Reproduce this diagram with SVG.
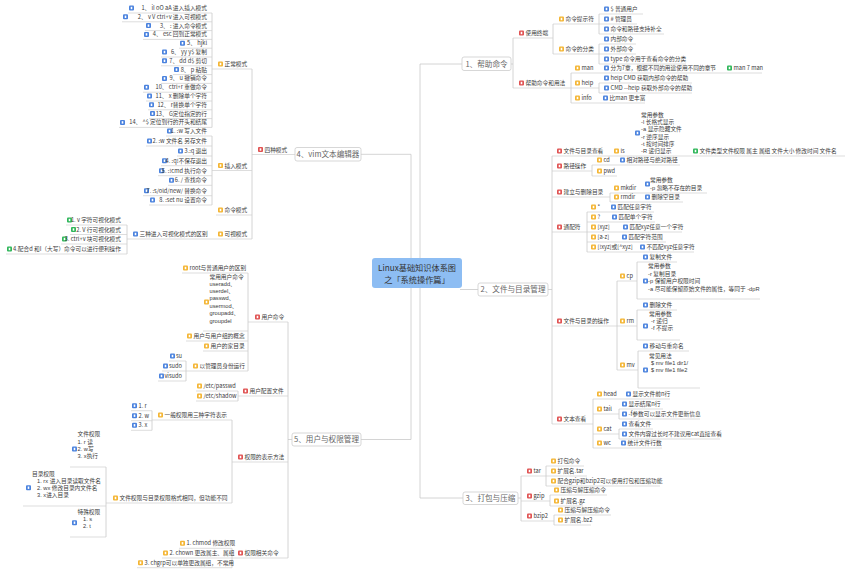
<svg xmlns="http://www.w3.org/2000/svg" width="850" height="572" viewBox="0 0 850 572">
<style>
.l{fill:none;stroke:#c6c6c6;stroke-width:.75}
.u{fill:none;stroke:#cfcfcf;stroke-width:.7}
text{font-family:"Noto Sans CJK SC","Noto Sans",sans-serif;font-size:5.7px;fill:#3a3a3a}
text.m{font-family:"Liberation Sans","Noto Sans CJK SC",sans-serif}
.e{text-anchor:end}
.bx{fill:#fff;stroke:#cdcdcd;stroke-width:.8}
.bt{font-size:7.6px;fill:#666;text-anchor:middle}
.ct{font-size:8.2px;fill:#333;text-anchor:middle}
</style>
<defs>
<g id="ir"><rect width="5" height="5" rx="1" fill="#e05252"/><rect x="1.7" y="1.3" width="1.6" height="2.4" fill="#fff"/></g>
<g id="iy"><rect width="5" height="5" rx="1" fill="#f4b533"/><rect x="1.7" y="1.3" width="1.6" height="2.4" fill="#fff"/></g>
<g id="ib"><rect width="5" height="5" rx="1" fill="#4a82de"/><rect x="1.7" y="1.3" width="1.6" height="2.4" fill="#fff"/></g>
<g id="ig"><rect width="5" height="5" rx="1" fill="#2fb65a"/><rect x="1.7" y="1.3" width="1.6" height="2.4" fill="#fff"/></g>
</defs>
<rect width="850" height="572" fill="#fff"/>

<g id="connectors">
<path class="l" d="M420 273V64H462"/>
<path class="l" d="M460 289.5H478"/>
<path class="l" d="M420 273V498H463"/>
<path class="l" d="M411 273V154.3H361"/>
<path class="l" d="M411 273V439.5H361"/>
<path class="l" d="M511 64H513M513 38V88"/>
<path class="l" d="M553 24V54"/>
<path class="l" d="M599 14V34"/>
<path class="l" d="M599 44V64"/>
<path class="l" d="M571 73V103"/>
<path class="l" d="M599 83V93"/>
<path class="l" d="M548 289.5H552M552 156V424"/>
<path class="l" d="M592 165V176"/>
<path class="l" d="M610 193V202"/>
<path class="l" d="M587 212V252"/>
<path class="l" d="M617 281V370"/>
<path class="l" d="M637 262V299"/>
<path class="l" d="M637 310V340"/>
<path class="l" d="M638 351V388"/>
<path class="l" d="M593 399V448"/>
<path class="l" d="M619 409V419"/>
<path class="l" d="M619 429V439"/>
<path class="l" d="M518 498H521M521 476V521"/>
<path class="l" d="M546 466V486"/>
<path class="l" d="M550 495V506"/>
<path class="l" d="M554 515V525"/>
<path class="l" d="M252 69V239"/>
<path class="l" d="M212 13V127.4"/>
<path class="l" d="M212 136V205"/>
<path class="l" d="M127 225V254"/>
<path class="l" d="M292 439.5H288M288 322V558"/>
<path class="l" d="M248 273V371"/>
<path class="l" d="M186 361V381"/>
<path class="l" d="M238 391V401"/>
<path class="l" d="M232 420V503"/>
<path class="l" d="M152 410.7V430.3"/>
<path class="l" d="M106 467V537"/>
<path class="l" d="M232 548.3V567.7"/>
</g>

<g id="center"><rect x="372" y="258" width="90" height="30" rx="3" fill="#8dbdf3"/><text class="ct" x="417" y="270.5">Linux基础知识体系图</text><text class="ct" x="417" y="282.5">之「系统操作篇」</text></g>

<g id="b1"><rect class="bx" x="462" y="57" width="49" height="13.5" rx="2"/><text class="bt" x="486.5" y="66.6">1、帮助命令</text></g>
<g id="b2"><rect class="bx" x="478" y="283" width="70" height="13" rx="2"/><text class="bt" x="513" y="292.3">2、文件与目录管理</text></g>
<g id="b3"><rect class="bx" x="463" y="492" width="55" height="12.5" rx="2"/><text class="bt" x="490.5" y="501">3、打包与压缩</text></g>
<g id="b4"><rect class="bx" x="295" y="147.5" width="66" height="13.5" rx="2"/><text class="bt" x="328" y="157">4、vim文本编辑器</text></g>
<g id="b5"><rect class="bx" x="292" y="433" width="69" height="13" rx="2"/><text class="bt" x="326.5" y="442.4">5、用户与权限管理</text></g>

<g id="n1-1"><use href="#ir" x="519" y="30.5"/><text x="525.5" y="35">使用终端</text><path class="u" d="M513 38H553"/></g>
<g id="n1-1-1"><use href="#iy" x="559" y="16.5"/><text x="565.5" y="21">命令提示符</text><path class="u" d="M553 24H599"/></g>
<g id="n1-1-1-1"><use href="#ib" x="604" y="6.5"/><text x="610.5" y="11">$ 普通用户</text><path class="u" d="M599 14H643"/></g>
<g id="n1-1-1-2"><use href="#ib" x="604" y="16.5"/><text x="610.5" y="21"># 管理员</text><path class="u" d="M599 24H637"/></g>
<g id="n1-1-1-3"><use href="#ib" x="604" y="26.5"/><text x="610.5" y="31">命令和路径支持补全</text><path class="u" d="M599 34H664"/></g>
<g id="n1-1-2"><use href="#iy" x="559" y="46.5"/><text x="565.5" y="51">命令的分类</text><path class="u" d="M553 54H599"/></g>
<g id="n1-1-2-1"><use href="#ib" x="604" y="36.5"/><text x="610.5" y="41">内部命令</text><path class="u" d="M599 44H636"/></g>
<g id="n1-1-2-2"><use href="#ib" x="604" y="46.5"/><text x="610.5" y="51">外部命令</text><path class="u" d="M599 54H636"/></g>
<g id="n1-1-2-3"><use href="#ib" x="604" y="56.5"/><text x="610.5" y="61">type 命令用于查看命令的分类</text><path class="u" d="M599 64H686"/></g>
<g id="n1-2"><use href="#ir" x="519" y="80.5"/><text x="525.5" y="85">帮助命令和用法</text><path class="u" d="M513 88H571"/></g>
<g id="n1-2-1"><use href="#iy" x="575" y="65.5"/><text x="581.5" y="70">man</text><path class="u" d="M571 73H601"/></g>
<g id="n1-2-1-1"><use href="#ib" x="604" y="65.5"/><text x="610.5" y="70">分为7章，根据不同的用途使用不同的章节</text><path class="u" d="M601 73H716"/></g>
<g id="n1-2-1-1-1"><use href="#ig" x="727" y="65.5"/><text x="733.5" y="70">man 7 man</text><path class="u" d="M716 73H762"/></g>
<g id="n1-2-2"><use href="#iy" x="575" y="80.5"/><text x="581.5" y="85">help</text><path class="u" d="M571 88H599"/></g>
<g id="n1-2-2-1"><use href="#ib" x="604" y="75.5"/><text x="610.5" y="80">help CMD 获取内部命令的帮助</text><path class="u" d="M599 83H692"/></g>
<g id="n1-2-2-2"><use href="#ib" x="604" y="85.5"/><text x="610.5" y="90">CMD --help 获取外部命令的帮助</text><path class="u" d="M599 93H692"/></g>
<g id="n1-2-3"><use href="#iy" x="575" y="95.5"/><text x="581.5" y="100">info</text><path class="u" d="M571 103H601"/></g>
<g id="n1-2-3-1"><use href="#ib" x="603" y="95.5"/><text x="609.5" y="100">比man 更丰富</text><path class="u" d="M601 103H645"/></g>

<g id="n2-1"><use href="#ir" x="557" y="148.5"/><text x="563.5" y="153">文件与目录查看</text><path class="u" d="M552 156H611"/></g>
<g id="n2-1-1"><use href="#iy" x="614" y="148.5"/><text x="620.5" y="153">ls</text><path class="u" d="M611 156H633"/></g>
<g id="n2-1-1-1"><use href="#ib" x="635" y="130.5"/><text class="m"><tspan x="641" y="117">常用参数</tspan><tspan x="641" y="124.2">-l 长格式显示</tspan><tspan x="641" y="131.4">-a 显示隐藏文件</tspan><tspan x="641" y="138.6">-r 逆序显示</tspan><tspan x="641" y="145.8">-t 按时间排序</tspan><tspan x="641" y="153">-R 递归显示</tspan></text><path class="u" d="M633 156H688"/></g>
<g id="n2-1-1-1-1"><use href="#ig" x="693" y="148.5"/><text x="699.5" y="153">文件类型文件权限 属主 属组 文件大小 修改时间 文件名</text><path class="u" d="M688 156H845"/></g>
<g id="n2-2"><use href="#ir" x="557" y="163.5"/><text x="563.5" y="168">路径操作</text><path class="u" d="M552 171H592"/></g>
<g id="n2-2-1"><use href="#iy" x="597" y="157.5"/><text x="603.5" y="162">cd</text><path class="u" d="M592 165H617"/></g>
<g id="n2-2-1-1"><use href="#ib" x="620" y="157.5"/><text x="626.5" y="162">相对路径与绝对路径</text><path class="u" d="M617 165H680"/></g>
<g id="n2-2-2"><use href="#iy" x="597" y="168.5"/><text x="603.5" y="173">pwd</text><path class="u" d="M592 176H617"/></g>
<g id="n2-3"><use href="#ir" x="557" y="189.5"/><text x="563.5" y="194">建立与删除目录</text><path class="u" d="M552 197H610"/></g>
<g id="n2-3-1"><use href="#iy" x="614" y="185.5"/><text x="620.5" y="190">mkdir</text><path class="u" d="M610 193H640"/></g>
<g id="n2-3-1-1"><use href="#ib" x="645" y="181.5"/><text class="m"><tspan x="650" y="182">常用参数</tspan><tspan x="650" y="190">-p 忽略不存在的目录</tspan></text><path class="u" d="M640 193H707"/></g>
<g id="n2-3-2"><use href="#iy" x="614" y="194.5"/><text x="620.5" y="199">rmdir</text><path class="u" d="M610 202H640"/></g>
<g id="n2-3-2-1"><use href="#ib" x="645" y="194.5"/><text x="651.5" y="199">删除空目录</text><path class="u" d="M640 202H683"/></g>
<g id="n2-4"><use href="#ir" x="557" y="224.5"/><text x="563.5" y="229">通配符</text><path class="u" d="M552 232H587"/></g>
<g id="n2-4-1"><use href="#iy" x="591" y="204.5"/><text x="597.5" y="209">*</text><path class="u" d="M587 212H608"/></g>
<g id="n2-4-1-1"><use href="#ib" x="611" y="204.5"/><text x="617.5" y="209">匹配任意字符</text><path class="u" d="M608 212H654"/></g>
<g id="n2-4-2"><use href="#iy" x="591" y="214.5"/><text x="597.5" y="219">?</text><path class="u" d="M587 222H608"/></g>
<g id="n2-4-2-1"><use href="#ib" x="612" y="214.5"/><text x="618.5" y="219">匹配单个字符</text><path class="u" d="M608 222H655"/></g>
<g id="n2-4-3"><use href="#iy" x="591" y="224.5"/><text x="597.5" y="229">[xyz]</text><path class="u" d="M587 232H620"/></g>
<g id="n2-4-3-1"><use href="#ib" x="623" y="224.5"/><text x="629.5" y="229">匹配xyz任意一个字符</text><path class="u" d="M620 232H682"/></g>
<g id="n2-4-4"><use href="#iy" x="591" y="234.5"/><text x="597.5" y="239">[a-z]</text><path class="u" d="M587 242H619"/></g>
<g id="n2-4-4-1"><use href="#ib" x="622" y="234.5"/><text x="628.5" y="239">匹配字符范围</text><path class="u" d="M619 242H666"/></g>
<g id="n2-4-5"><use href="#iy" x="591" y="244.5"/><text x="597.5" y="249">[!xyz]或[^xyz]</text><path class="u" d="M587 252H637"/></g>
<g id="n2-4-5-1"><use href="#ib" x="640" y="244.5"/><text x="646.5" y="249">不匹配xyz任意字符</text><path class="u" d="M637 252H694"/></g>
<g id="n2-5"><use href="#ir" x="557" y="318.5"/><text x="563.5" y="323">文件与目录的操作</text><path class="u" d="M552 326H617"/></g>
<g id="n2-5-1"><use href="#iy" x="620" y="273.5"/><text x="626.5" y="278">cp</text><path class="u" d="M617 281H637"/></g>
<g id="n2-5-1-1"><use href="#ib" x="643" y="254.5"/><text x="649.5" y="259">复制文件</text><path class="u" d="M637 262H677"/></g>
<g id="n2-5-1-2"><use href="#ib" x="643" y="278.5"/><text class="m"><tspan x="648" y="268">常用参数</tspan><tspan x="648" y="275.5">-r 复制目录</tspan><tspan x="648" y="283">-p 保留用户权限时间</tspan><tspan x="648" y="290.5">-a 尽可能保留原始文件的属性，等同于 -dpR</tspan></text><path class="u" d="M637 299H760"/></g>
<g id="n2-5-2"><use href="#iy" x="620" y="318.5"/><text x="626.5" y="323">rm</text><path class="u" d="M617 326H637"/></g>
<g id="n2-5-2-1"><use href="#ib" x="643" y="302.5"/><text x="649.5" y="307">删除文件</text><path class="u" d="M637 310H677"/></g>
<g id="n2-5-2-2"><use href="#ib" x="643" y="323.5"/><text class="m"><tspan x="649" y="316">常用参数</tspan><tspan x="651" y="323">-r 递归</tspan><tspan x="651" y="330">-f 不提示</tspan></text><path class="u" d="M637 340H680"/></g>
<g id="n2-5-3"><use href="#iy" x="620" y="362.5"/><text x="626.5" y="367">mv</text><path class="u" d="M617 370H638"/></g>
<g id="n2-5-3-1"><use href="#ib" x="643" y="343.5"/><text x="649.5" y="348">移动与重命名</text><path class="u" d="M638 351H689"/></g>
<g id="n2-5-3-2"><use href="#ib" x="643" y="367.5"/><text class="m"><tspan x="649" y="358">常见用法</tspan><tspan x="651" y="365">$ mv file1 dir1/</tspan><tspan x="651" y="372">$ mv file1 file2</tspan></text><path class="u" d="M638 388H700"/></g>
<g id="n2-6"><use href="#ir" x="557" y="416.5"/><text x="563.5" y="421">文本查看</text><path class="u" d="M552 424H593"/></g>
<g id="n2-6-1"><use href="#iy" x="597" y="391.5"/><text x="603.5" y="396">head</text><path class="u" d="M593 399H623"/></g>
<g id="n2-6-1-1"><use href="#ib" x="626" y="391.5"/><text x="632.5" y="396">显示文件前n行</text><path class="u" d="M623 399H670"/></g>
<g id="n2-6-2"><use href="#iy" x="597" y="406.5"/><text x="603.5" y="411">tail</text><path class="u" d="M593 414H619"/></g>
<g id="n2-6-2-1"><use href="#ib" x="622" y="401.5"/><text x="628.5" y="406">显示结尾n行</text><path class="u" d="M619 409H663"/></g>
<g id="n2-6-2-2"><use href="#ib" x="622" y="411.5"/><text x="628.5" y="416">-f参数可以显示文件更新信息</text><path class="u" d="M619 419H700"/></g>
<g id="n2-6-3"><use href="#iy" x="597" y="426.5"/><text x="603.5" y="431">cat</text><path class="u" d="M593 434H619"/></g>
<g id="n2-6-3-1"><use href="#ib" x="622" y="421.5"/><text x="628.5" y="426">查看文件</text><path class="u" d="M619 429H653"/></g>
<g id="n2-6-3-2"><use href="#ib" x="622" y="431.5"/><text x="628.5" y="436">文件内容过长时不建议用cat直接查看</text><path class="u" d="M619 439H720"/></g>
<g id="n2-6-4"><use href="#iy" x="597" y="440.5"/><text x="603.5" y="445">wc</text><path class="u" d="M593 448H619"/></g>
<g id="n2-6-4-1"><use href="#ib" x="621" y="440.5"/><text x="627.5" y="445">统计文件行数</text><path class="u" d="M619 448H662"/></g>

<g id="n3-1"><use href="#ir" x="527" y="468.5"/><text x="533.5" y="473">tar</text><path class="u" d="M521 476H546"/></g>
<g id="n3-1-1"><use href="#iy" x="551" y="458.5"/><text x="557.5" y="463">打包命令</text><path class="u" d="M546 466H584"/></g>
<g id="n3-1-2"><use href="#iy" x="551" y="468.5"/><text x="557.5" y="473">扩展名.tar</text><path class="u" d="M546 476H587"/></g>
<g id="n3-1-3"><use href="#iy" x="551" y="478.5"/><text x="557.5" y="483">配合gzip和bzip2可以使用打包和压缩功能</text><path class="u" d="M546 486H660"/></g>
<g id="n3-2"><use href="#ir" x="527" y="493.5"/><text x="533.5" y="498">gzip</text><path class="u" d="M521 501H550"/></g>
<g id="n3-2-1"><use href="#iy" x="554" y="487.5"/><text x="560.5" y="492">压缩与解压缩命令</text><path class="u" d="M550 495H607"/></g>
<g id="n3-2-2"><use href="#iy" x="554" y="498.5"/><text x="560.5" y="503">扩展名.gz</text><path class="u" d="M550 506H583"/></g>
<g id="n3-3"><use href="#ir" x="527" y="513.5"/><text x="533.5" y="518">bzip2</text><path class="u" d="M521 521H554"/></g>
<g id="n3-3-1"><use href="#iy" x="558" y="507.5"/><text x="564.5" y="512">压缩与解压缩命令</text><path class="u" d="M554 515H611"/></g>
<g id="n3-3-2"><use href="#iy" x="558" y="517.5"/><text x="564.5" y="522">扩展名.bz2</text><path class="u" d="M554 525H591"/></g>

<g id="n4-1"><use href="#ir" x="258" y="147"/><text x="264.5" y="151.5">四种模式</text><path class="u" d="M252 154.5H295"/></g>
<g id="n4-1-1"><use href="#iy" x="218" y="61.5"/><text x="224.5" y="66">正常模式</text><path class="u" d="M212 69H252"/></g>
<g id="v1"><use href="#ib" x="129" y="5.5"/><text class="e" x="207" y="10">1、 iI oO aA 进入插入模式</text><path class="u" d="M128 13H212"/></g>
<g id="v2"><use href="#ib" x="123" y="14.3"/><text class="e" x="207" y="18.8">2、 v V ctrl+v 进入可视模式</text><path class="u" d="M122 21.8H212"/></g>
<g id="v3"><use href="#ib" x="146" y="23.1"/><text class="e" x="207" y="27.6">3、 :  进入命令模式</text><path class="u" d="M145 30.6H212"/></g>
<g id="v4"><use href="#ib" x="144" y="31.9"/><text class="e" x="207" y="36.4">4、 esc 回到正常模式</text><path class="u" d="M143 39.4H212"/></g>
<g id="v5"><use href="#ib" x="180" y="40.7"/><text class="e" x="207" y="45.2">5、 hjkl</text><path class="u" d="M179 48.2H212"/></g>
<g id="v6"><use href="#ib" x="162" y="49.5"/><text class="e" x="207" y="54">6、 yy y$ 复制</text><path class="u" d="M161 57H212"/></g>
<g id="v7"><use href="#ib" x="162" y="58.3"/><text class="e" x="207" y="62.8">7、 dd d$ 剪切</text><path class="u" d="M161 65.8H212"/></g>
<g id="v8"><use href="#ib" x="174" y="67.1"/><text class="e" x="207" y="71.6">8、 p 粘贴</text><path class="u" d="M173 74.6H212"/></g>
<g id="v9"><use href="#ib" x="162" y="75.9"/><text class="e" x="207" y="80.4">9、 u 撤销命令</text><path class="u" d="M161 83.4H212"/></g>
<g id="v10"><use href="#ib" x="144" y="84.7"/><text class="e" x="207" y="89.2">10、 ctrl+r 重做命令</text><path class="u" d="M143 92.2H212"/></g>
<g id="v11"><use href="#ib" x="147" y="93.5"/><text class="e" x="207" y="98">11、 x 删除单个字符</text><path class="u" d="M146 101H212"/></g>
<g id="v12"><use href="#ib" x="149" y="102.3"/><text class="e" x="207" y="106.8">12、 r替换单个字符</text><path class="u" d="M148 109.8H212"/></g>
<g id="v13"><use href="#ib" x="150" y="111.1"/><text class="e" x="207" y="115.6">13、 G定位指定的行</text><path class="u" d="M149 118.6H212"/></g>
<g id="v14"><use href="#ib" x="120" y="119.9"/><text class="e" x="207" y="124.4">14、 ^$ 定位到行的开头和结尾</text><path class="u" d="M119 127.4H212"/></g>
<g id="n4-1-2"><use href="#iy" x="218" y="163"/><text x="224.5" y="167.5">插入模式</text><path class="u" d="M212 170.5H252"/></g>
<g id="c1"><use href="#ib" x="167" y="128.5"/><text class="e" x="207" y="133">1. :w 写入文件</text><path class="u" d="M166 136H212"/></g>
<g id="c2"><use href="#ib" x="147" y="138.5"/><text class="e" x="207" y="143">2. :w 文件名 另存文件</text><path class="u" d="M146 146H212"/></g>
<g id="c3"><use href="#ib" x="178" y="148.5"/><text class="e" x="207" y="153">3.:q 退出</text><path class="u" d="M177 156H212"/></g>
<g id="c4"><use href="#ib" x="162" y="158.2"/><text class="e" x="207" y="162.7">4. :q!不保存退出</text><path class="u" d="M161 165.7H212"/></g>
<g id="c5"><use href="#ib" x="159" y="168.2"/><text class="e" x="207" y="172.7">5. :!cmd 执行命令</text><path class="u" d="M158 175.7H212"/></g>
<g id="c6"><use href="#ib" x="169" y="177.8"/><text class="e" x="207" y="182.3">6. / 查找命令</text><path class="u" d="M168 185.3H212"/></g>
<g id="c7"><use href="#ib" x="144" y="188.2"/><text class="e" x="207" y="192.7">7. :s/old/new/ 替换命令</text><path class="u" d="M143 195.7H212"/></g>
<g id="c8"><use href="#ib" x="150" y="197.5"/><text class="e" x="207" y="202">8. :set nu 设置命令</text><path class="u" d="M149 205H212"/></g>
<g id="n4-1-3"><use href="#iy" x="218" y="207.5"/><text x="224.5" y="212">命令模式</text><path class="u" d="M216 215H252"/></g>
<g id="n4-1-4"><use href="#iy" x="218" y="231.5"/><text x="224.5" y="236">可视模式</text><path class="u" d="M214 239H252"/></g>
<g id="n4-1-4-1"><use href="#ib" x="133" y="231.5"/><text x="139.5" y="236">三种进入可视化模式的区别</text><path class="u" d="M127 239H214"/></g>
<g id="s1"><use href="#ig" x="67" y="217.5"/><text class="e" x="121" y="222">1. v 字符可视化模式</text><path class="u" d="M66 225H127"/></g>
<g id="s2"><use href="#ig" x="71" y="227"/><text class="e" x="121" y="231.5">2. V 行可视化模式</text><path class="u" d="M70 234.5H127"/></g>
<g id="s3"><use href="#ig" x="62" y="236.5"/><text class="e" x="121" y="241">3. ctrl+v 块可视化模式</text><path class="u" d="M61 244H127"/></g>
<g id="s4"><use href="#ig" x="7" y="246.5"/><text class="e" x="121" y="251">4.配合d 和I（大写）命令可以进行便利操作</text><path class="u" d="M6 254H127"/></g>

<g id="n5-1"><use href="#ir" x="255" y="314.5"/><text x="261.5" y="319">用户命令</text><path class="u" d="M248 322H288"/></g>
<g id="n5-1-1"><use href="#iy" x="183" y="265.5"/><text x="189.5" y="270">root与普通用户的区别</text><path class="u" d="M182 273H248"/></g>
<g id="n5-1-2"><use href="#iy" x="204" y="299.5"/><text class="m"><tspan x="209.5" y="279.3">常用用户命令</tspan><tspan x="209.5" y="286">useradd、</tspan><tspan x="209.5" y="293">userdel、</tspan><tspan x="209.5" y="300">passwd、</tspan><tspan x="209.5" y="308">usermod、</tspan><tspan x="209.5" y="315">groupadd、</tspan><tspan x="209.5" y="322.7">groupdel</tspan></text><path class="u" d="M203 331H248"/></g>
<g id="n5-1-3"><use href="#iy" x="187" y="333.5"/><text x="193.5" y="338">用户与用户组的概念</text><path class="u" d="M186 341H248"/></g>
<g id="n5-1-4"><use href="#iy" x="204" y="343.5"/><text x="210.5" y="348">用户的家目录</text><path class="u" d="M203 351H248"/></g>
<g id="n5-1-5"><use href="#iy" x="193" y="363.5"/><text x="199.5" y="368">以管理员身份运行</text><path class="u" d="M186 371H248"/></g>
<g id="n5-1-5-1"><use href="#ib" x="170" y="353.5"/><text class="e" x="182" y="358">su</text><path class="u" d="M169 361H186"/></g>
<g id="n5-1-5-2"><use href="#ib" x="163" y="363.5"/><text class="e" x="182" y="368">sudo</text><path class="u" d="M162 371H186"/></g>
<g id="n5-1-5-3"><use href="#ib" x="159" y="373.5"/><text class="e" x="182" y="378">visudo</text><path class="u" d="M158 381H186"/></g>
<g id="n5-2"><use href="#ir" x="243" y="388.5"/><text x="249.5" y="393">用户配置文件</text><path class="u" d="M238 396H288"/></g>
<g id="n5-2-1"><use href="#iy" x="197" y="383.5"/><text x="203.5" y="388">/etc/passwd</text><path class="u" d="M196 391H238"/></g>
<g id="n5-2-2"><use href="#iy" x="197" y="393.5"/><text x="203.5" y="398">/etc/shadow</text><path class="u" d="M196 401H238"/></g>
<g id="n5-3"><use href="#ir" x="238" y="454.5"/><text x="244.5" y="459">权限的表示方法</text><path class="u" d="M232 462H288"/></g>
<g id="n5-3-1"><use href="#iy" x="158" y="412.5"/><text x="164.5" y="417">一般权限用三种字符表示</text><path class="u" d="M152 420H232"/></g>
<g id="n5-3-1-1"><use href="#ib" x="132" y="403.2"/><text x="138.5" y="407.7">1. r</text><path class="u" d="M131 410.7H152"/></g>
<g id="n5-3-1-2"><use href="#ib" x="132" y="413.2"/><text x="138.5" y="417.7">2. w</text><path class="u" d="M131 420.7H152"/></g>
<g id="n5-3-1-3"><use href="#ib" x="132" y="422.8"/><text x="138.5" y="427.3">3. x</text><path class="u" d="M131 430.3H152"/></g>
<g id="n5-3-2"><use href="#iy" x="113" y="495.5"/><text x="119.5" y="500">文件权限与目录权限格式相同，但功能不同</text><path class="u" d="M106 503H232"/></g>
<g id="n5-3-2-1"><use href="#ib" x="72" y="446.5"/><text class="m"><tspan x="77.5" y="436.3">文件权限</tspan><tspan x="77.5" y="443.7">1. r 读</tspan><tspan x="77.5" y="451">2. w写</tspan><tspan x="77.5" y="458.3">3. x执行</tspan></text><path class="u" d="M70 467H106"/></g>
<g id="n5-3-2-2"><use href="#ib" x="26" y="485.2"/><text class="m"><tspan x="32" y="476">目录权限</tspan><tspan x="37" y="482.7">1. rx 进入目录读取文件名</tspan><tspan x="37" y="489.7">2. wx 修改目录内文件名</tspan><tspan x="37" y="496.7">3. x进入目录</tspan></text><path class="u" d="M23 506H106"/></g>
<g id="n5-3-2-3"><use href="#ib" x="72" y="520.2"/><text class="m"><tspan x="77.5" y="513.7">特殊权限</tspan><tspan x="83" y="521">1. s</tspan><tspan x="83" y="528">2. t</tspan></text><path class="u" d="M70 537H106"/></g>
<g id="n5-4"><use href="#ir" x="238" y="550.5"/><text x="244.5" y="555">权限相关命令</text><path class="u" d="M232 558H288"/></g>
<g id="n5-4-1"><use href="#iy" x="180" y="540.8"/><text x="186.5" y="545.3">1. chmod 修改权限</text><path class="u" d="M179 548.3H232"/></g>
<g id="n5-4-2"><use href="#iy" x="163" y="550.5"/><text x="169.5" y="555">2. chown 更改属主、属组</text><path class="u" d="M162 558H232"/></g>
<g id="n5-4-3"><use href="#iy" x="138" y="560.2"/><text x="144.5" y="564.7">3. chgrp可以单独更改属组，不常用</text><path class="u" d="M137 567.7H232"/></g>
</svg>
